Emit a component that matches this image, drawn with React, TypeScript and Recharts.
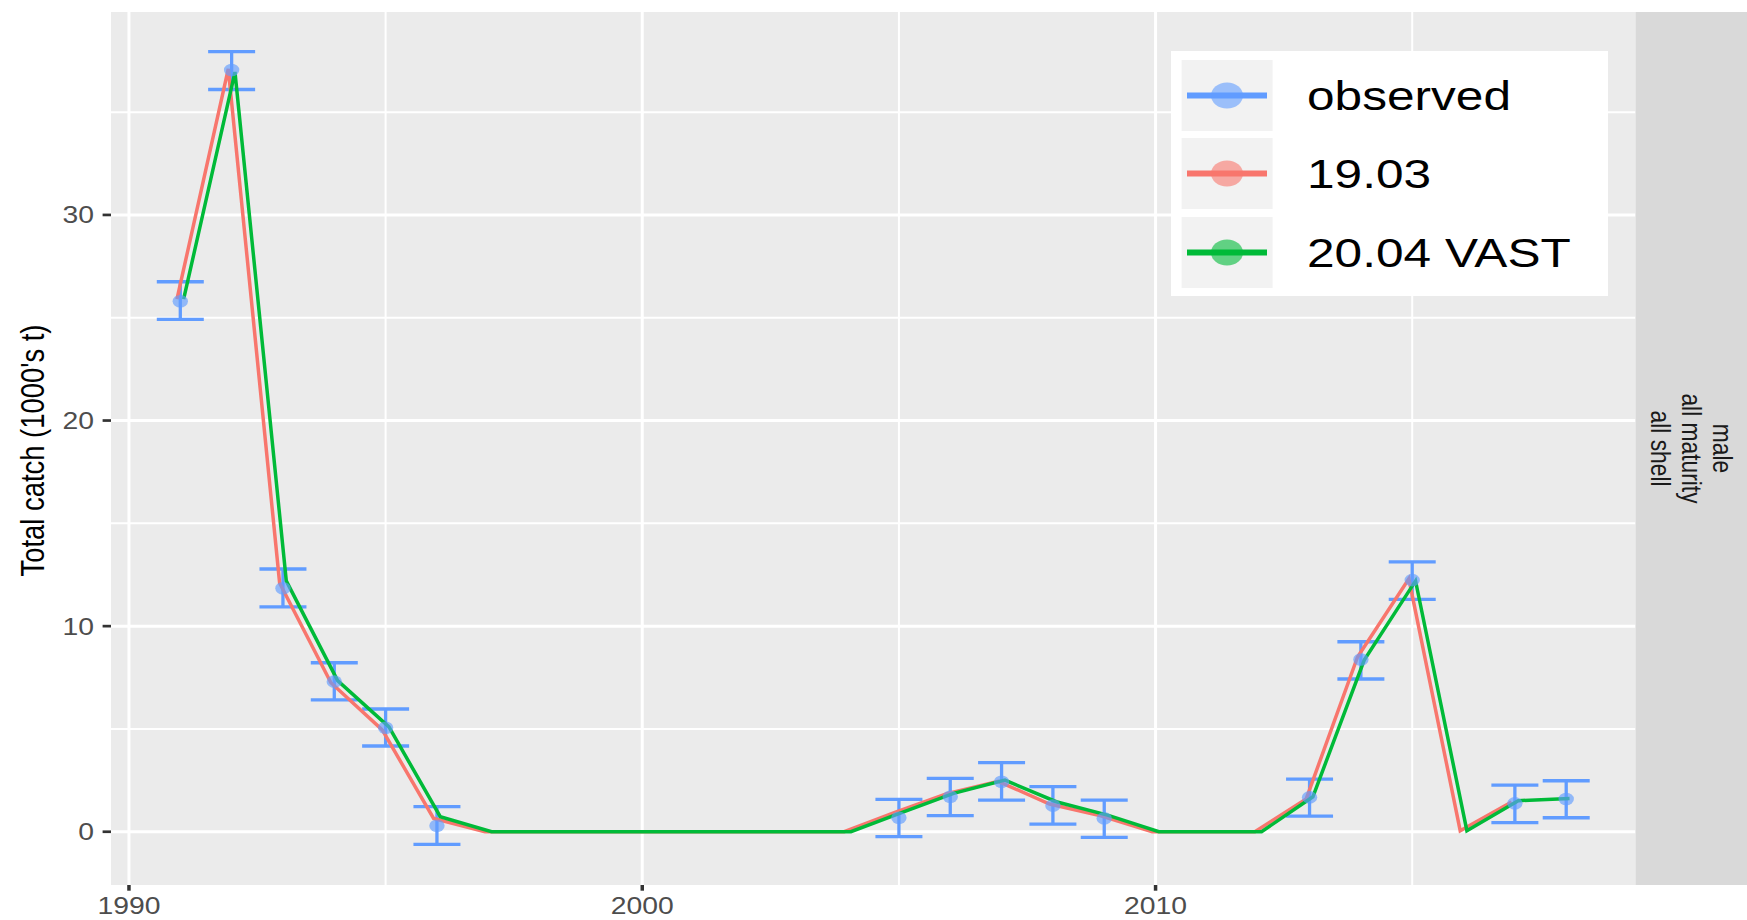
import React from 'react';
import { ComposedChart, Line, Scatter, ErrorBar, XAxis, YAxis, ReferenceLine, ReferenceArea } from 'recharts';

// ---------- data ----------
const obsYears = [1991, 1992, 1993, 1994, 1995, 1996, 2005, 2006, 2007, 2008, 2009, 2013, 2014, 2015, 2017, 2018];
const obsValues = [25.8, 37.05, 11.84, 7.3, 5.06, 0.29, 0.68, 1.7, 2.43, 1.27, 0.65, 1.67, 8.38, 12.24, 1.38, 1.59];
const obsLower = [24.92, 36.1, 10.94, 6.41, 4.17, -0.61, -0.24, 0.78, 1.54, 0.37, -0.27, 0.76, 7.43, 11.3, 0.44, 0.68];
const obsUpper = [26.75, 37.94, 12.78, 8.22, 5.97, 1.22, 1.57, 2.6, 3.36, 2.19, 1.54, 2.56, 9.24, 13.13, 2.27, 2.48];

const years1903 = [1991, 1992, 1993, 1994, 1995, 1996, 1997, 1998, 1999, 2000, 2001, 2002, 2003, 2004, 2005, 2006, 2007, 2008, 2009, 2010, 2011, 2012, 2013, 2014, 2015, 2016, 2017];
const model1903 = [25.9, 37.1, 12.1, 7.25, 4.95, 0.65, 0, 0, 0, 0, 0, 0, 0, 0, 0.95, 1.85, 2.45, 1.35, 0.78, 0, 0, 0, 1.6, 8.5, 12.3, 0.05, 1.45];

const years2004 = [1991, 1992, 1993, 1994, 1995, 1996, 1997, 1998, 1999, 2000, 2001, 2002, 2003, 2004, 2005, 2006, 2007, 2008, 2009, 2010, 2011, 2012, 2013, 2014, 2015, 2016, 2017, 2018];
const model2004 = [25.9, 36.95, 12.2, 7.35, 5.1, 0.73, 0, 0, 0, 0, 0, 0, 0, 0, 0.94, 1.87, 2.51, 1.46, 0.81, 0, 0, 0, 1.7, 8.35, 12.2, 0.05, 1.51, 1.62];

const seriesNames = ['observed', '19.03', '20.04 VAST'];
const seriesColors = ['#619CFF', '#F8766D', '#00BA38'];

const xTicks = [1990, 2000, 2010];
const xMinor = [1995, 2005, 2015];
const yTicks = [0, 10, 20, 30];
const yMinor = [5, 15, 25, 35];
const xDomain = [1989.65, 2019.35];
const yDomain = [-2.59, 39.87];

const stripLines = ['male', 'all maturity', 'all shell'];
const yLabel = "Total catch (1000's t)";

// ---------- layout ----------
const W = 1747;
const H = 920;
const PL = 111;
const PT = 12;
const PR = 1635.5;
const PB = 885;
const STRETCH = 1.2;
const DODGE = 0.065;
const FONT = '"Liberation Sans", Arial, Helvetica, sans-serif';
const TICK_FONT = 23.6;

const obsData = obsYears.map((x, i) => ({
  x,
  y: obsValues[i],
  err: [obsValues[i] - obsLower[i], obsUpper[i] - obsValues[i]],
}));
const data1903 = years1903.map((yr, i) => ({ x: yr - DODGE, y: model1903[i] }));
const data2004 = years2004.map((yr, i) => ({ x: yr + DODGE, y: model2004[i] }));

const YTick = (props: any) => {
  const { x, y, payload } = props;
  return (
    <text
      transform={`translate(${x},${y}) scale(${STRETCH},1)`}
      textAnchor="end"
      dy="0.36em"
      fontSize={TICK_FONT}
      fill="#4D4D4D"
      fontFamily={FONT}
    >
      {payload.value}
    </text>
  );
};

const XTick = (props: any) => {
  const { x, y, payload } = props;
  return (
    <text
      transform={`translate(${x},${y}) scale(${STRETCH},1)`}
      textAnchor="middle"
      dy="0.71em"
      fontSize={TICK_FONT}
      fill="#4D4D4D"
      fontFamily={FONT}
    >
      {payload.value}
    </text>
  );
};

const PointShape = (props: any) => {
  const { cx, cy } = props;
  if (cx == null || cy == null) return null;
  return <ellipse cx={cx} cy={cy} rx={7.7} ry={6.3} fill={seriesColors[0]} fillOpacity={0.65} />;
};

const Overlay = () => {
  const legX = 1171;
  const legY = 51;
  const legW = 437;
  const legH = 245;
  const rowTops = [60, 138, 217];
  const keyH = 71;
  return (
    <svg
      width={W}
      height={H}
      style={{ position: 'absolute', left: 0, top: 0, pointerEvents: 'none' }}
    >
      {/* strip */}
      <rect x={PR} y={PT} width={W - PR} height={PB - PT} fill="#D9D9D9" />
      {stripLines.map((t, i) => (
        <text
          key={t}
          transform={`translate(${1713 - i * 31},${(PT + PB) / 2}) rotate(90) scale(1,${STRETCH})`}
          textAnchor="middle"
          fontSize={22.8}
          fill="#1A1A1A"
          fontFamily={FONT}
        >
          {t}
        </text>
      ))}
      {/* y axis title */}
      <text
        transform={`translate(43.5,${(PT + PB) / 2 + 2}) rotate(-90) scale(1,${STRETCH})`}
        textAnchor="middle"
        fontSize={27.4}
        fill="#000"
        fontFamily={FONT}
      >
        {yLabel}
      </text>
      {/* legend */}
      <rect x={legX} y={legY} width={legW} height={legH} fill="#FFFFFF" />
      {seriesNames.map((name, i) => {
        const top = rowTops[i];
        const cy = top + keyH / 2;
        return (
          <g key={name}>
            <rect x={1181.6} y={top} width={91} height={keyH} fill="#F2F2F2" />
            <line x1={1187} x2={1267} y1={cy} y2={cy} stroke={seriesColors[i]} strokeWidth={6} />
            <ellipse cx={1227} cy={cy} rx={16} ry={13} fill={seriesColors[i]} fillOpacity={0.6} />
            <text
              transform={`translate(1307,${cy + 14.6}) scale(1.21,1)`}
              fontSize={41}
              fill="#000"
              fontFamily={FONT}
            >
              {name}
            </text>
          </g>
        );
      })}
    </svg>
  );
};

export default function App() {
  return (
    <div style={{ position: 'absolute', left: 0, top: 0, width: W, height: H, background: '#FFFFFF' }}>
      <ComposedChart
        width={W}
        height={H}
        margin={{ top: PT, right: W - PR, bottom: 0, left: 0 }}
      >
        <XAxis
          type="number"
          dataKey="x"
          domain={xDomain}
          ticks={xTicks}
          allowDataOverflow
          height={H - PB}
          tickSize={5.7}
          tickMargin={6.3}
          axisLine={false}
          tickLine={{ stroke: '#333333', strokeWidth: 3.5 }}
          tick={<XTick />}
        />
        <YAxis
          type="number"
          dataKey="y"
          domain={yDomain}
          ticks={yTicks}
          allowDataOverflow
          width={PL}
          tickSize={8.4}
          tickMargin={8.6}
          axisLine={false}
          tickLine={{ stroke: '#333333', strokeWidth: 2.7 }}
          tick={<YTick />}
        />
        <ReferenceArea
          x1={xDomain[0]}
          x2={xDomain[1]}
          y1={yDomain[0]}
          y2={yDomain[1]}
          fill="#EBEBEB"
          fillOpacity={1}
          stroke="none"
        />
        {yMinor.map((v) => (
          <ReferenceLine key={'ym' + v} y={v} stroke="#FFFFFF" strokeWidth={2} />
        ))}
        {xMinor.map((v) => (
          <ReferenceLine key={'xm' + v} x={v} stroke="#FFFFFF" strokeWidth={2} />
        ))}
        {yTicks.map((v) => (
          <ReferenceLine key={'y' + v} y={v} stroke="#FFFFFF" strokeWidth={3} />
        ))}
        {xTicks.map((v) => (
          <ReferenceLine key={'x' + v} x={v} stroke="#FFFFFF" strokeWidth={3} />
        ))}
        <Scatter data={obsData} dataKey="y" shape={<PointShape />} isAnimationActive={false}>
          <ErrorBar
            dataKey="err"
            direction="y"
            width={23.5}
            stroke={seriesColors[0]}
            strokeWidth={3.3}
            isAnimationActive={false}
          />
        </Scatter>
        <Line
          data={data1903}
          dataKey="y"
          stroke={seriesColors[1]}
          strokeWidth={3.5}
          dot={false}
          activeDot={false}
          isAnimationActive={false}
        />
        <Line
          data={data2004}
          dataKey="y"
          stroke={seriesColors[2]}
          strokeWidth={3.5}
          dot={false}
          activeDot={false}
          isAnimationActive={false}
        />
      </ComposedChart>
      <Overlay />
    </div>
  );
}
